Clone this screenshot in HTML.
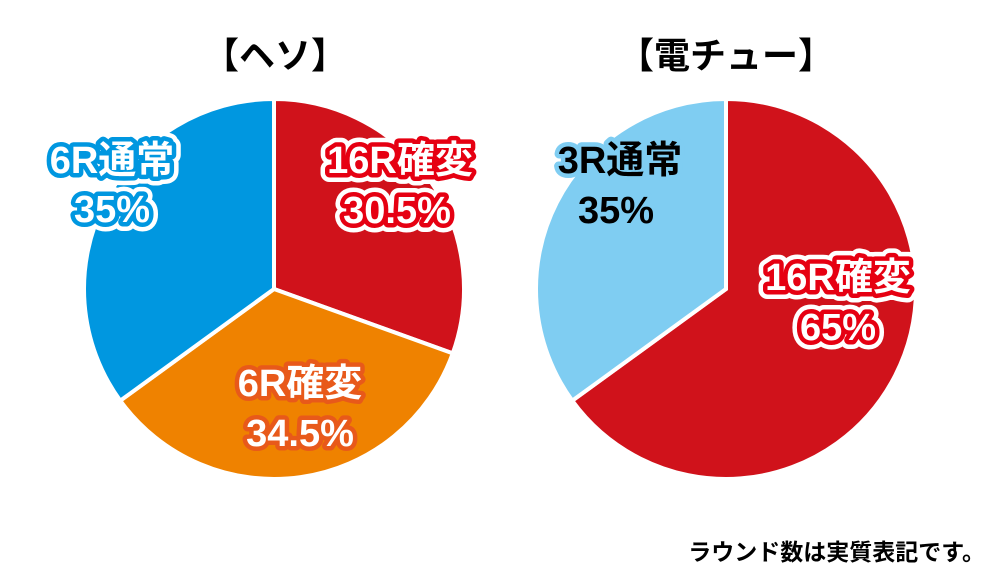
<!DOCTYPE html>
<html><head><meta charset="utf-8"><style>
body{margin:0;background:#fff;}
svg text{font-family:"Liberation Sans","Noto Sans CJK JP",sans-serif;font-weight:bold;text-anchor:middle;}
</style></head><body>
<svg id="c" width="1000" height="577" viewBox="0 0 1000 577">
<text x="275" y="68" font-size="36" fill="#000">【ヘソ】</text>
<text x="726" y="68" font-size="36" fill="#000">【電チュー】</text>
<g id="p1"></g><g id="p2"></g><g id="labels"></g>
<text x="985" y="560" font-size="23" fill="#000" style="text-anchor:end">ラウンド数は実質表記です。</text>
</svg>
<script>
const hesoCats=["16R確変","6R確変","6R通常"];
const hesoVals=[30.5,34.5,35];
const hesoColors=["#d0121b","#ef8200","#0097e0"];
const denCats=["16R確変","3R通常"];
const denVals=[65,35];
const denColors=["#d0121b","#7fcdf2"];
const NS="http://www.w3.org/2000/svg";
function pie(g,cx,cy,r,vals,colors,names){
  const tot=vals.reduce((a,b)=>a+b,0);let a0=0;
  vals.forEach((v,i)=>{
    const a1=a0+v/tot*2*Math.PI;
    const x0=cx+r*Math.sin(a0),y0=cy-r*Math.cos(a0),x1=cx+r*Math.sin(a1),y1=cy-r*Math.cos(a1);
    const p=document.createElementNS(NS,"path");
    p.setAttribute("d",`M${cx},${cy}L${x0},${y0}A${r},${r} 0 ${a1-a0>Math.PI?1:0} 1 ${x1},${y1}Z`);
    p.setAttribute("fill",colors[i]);p.setAttribute("stroke","#fff");p.setAttribute("stroke-width","4");
    
    
    g.appendChild(p);a0=a1;
  });
}
pie(document.getElementById("p1"),274,289,190,hesoVals,hesoColors,["heso-slice-16r","heso-slice-6r-kakuhen","heso-slice-6r-tsujo"]);
pie(document.getElementById("p2"),726,289,190,denVals,denColors,["denchu-slice-16r","denchu-slice-3r"]);
const L=document.getElementById("labels");
function lbl(x,y,t,fill,stroke,outer,name){
  if(outer){const o=document.createElementNS(NS,"text");o.setAttribute("x",x);o.setAttribute("y",y);o.setAttribute("font-size","38");
  o.setAttribute("fill",outer);o.setAttribute("stroke",outer);o.setAttribute("stroke-width","18");o.setAttribute("stroke-linejoin","round");o.textContent=t;
  
  
  L.appendChild(o);}
  const e=document.createElementNS(NS,"text");e.setAttribute("x",x);e.setAttribute("y",y);e.setAttribute("font-size","38");
  e.setAttribute("fill",fill);e.setAttribute("stroke",stroke);e.setAttribute("stroke-width","9");e.setAttribute("stroke-linejoin","round");e.setAttribute("paint-order","stroke");e.textContent=t;
  
  
  L.appendChild(e);
}
lbl(112,173,hesoCats[2],"#fff","#0097e0","#fff","label-6r-tsujo");
lbl(112,222,hesoVals[2]+"%","#fff","#0097e0","#fff","value-6r-tsujo");
lbl(400,173,hesoCats[0],"#fff","#e60012","#fff","label-heso-16r");
lbl(397,223,hesoVals[0]+"%","#fff","#e60012","#fff","value-heso-16r");
lbl(300,396,hesoCats[1],"#fff","#e8591a",null,"label-6r-kakuhen");
lbl(300,446,hesoVals[1]+"%","#fff","#e8591a",null,"value-6r-kakuhen");
lbl(620,173,denCats[1],"#000","#7fcdf2",null,"label-3r-tsujo");
lbl(616,223,denVals[1]+"%","#000","#7fcdf2",null,"value-3r-tsujo");
lbl(838,290,denCats[0],"#fff","#e60012","#fff","label-denchu-16r");
lbl(838,340,denVals[0]+"%","#fff","#e60012","#fff","value-denchu-16r");
</script>
</body></html>
